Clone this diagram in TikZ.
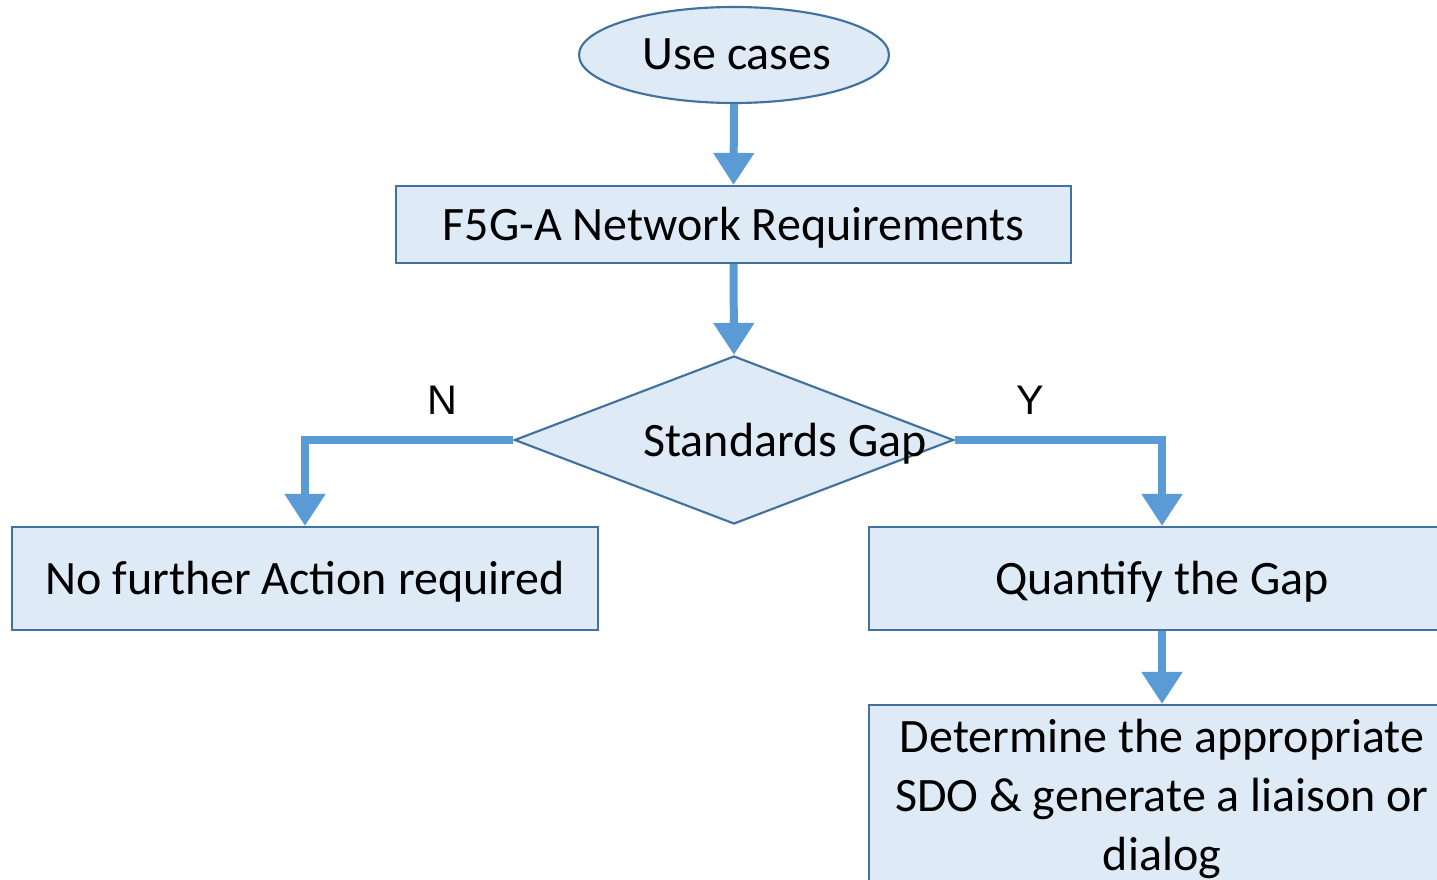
\documentclass[tikz,border=0pt]{standalone}
\usepackage{fontspec}
\setmainfont{Carlito}
\newfontfamily\labelfont{Liberation Sans}
\usetikzlibrary{shapes.geometric,arrows.meta}
\definecolor{boxfill}{HTML}{DEEBF7}
\definecolor{boxline}{HTML}{41719C}
\definecolor{flow}{HTML}{5B9BD5}
\begin{document}
\begin{tikzpicture}[x=0.75pt,y=-0.75pt,
  shapebox/.style={draw=boxline,fill=boxfill,line width=1.6pt,inner sep=0pt},
  stepbox/.style={shapebox,rectangle},
  txt/.style={font=\fontsize{36pt}{44pt}\selectfont,inner sep=0pt,anchor=base},
  yn/.style={font=\labelfont\fontsize{31pt}{36pt}\selectfont,inner sep=0pt},
  conn/.style={draw=flow,line width=6pt,
    -{Triangle[width=29.25pt,length=24pt]}}]
\useasboundingbox (0,0) rectangle (1437,880);
\fill[white] (0,0) rectangle (1437,880);

% nodes
\node[shapebox,ellipse,minimum width=310*0.75pt,minimum height=96*0.75pt] (uc) at (734,55) {};
\node[txt] at (737,70) {Use cases};

\node[stepbox,minimum width=675*0.75pt,minimum height=77*0.75pt] (req) at (733.5,224.5) {};
\node[txt] at (733.5,241) {F5G-A Network Requirements};

\node[shapebox,diamond,minimum width=439*0.75pt,minimum height=168*0.75pt] (gap) at (734,440) {};
\node[txt] at (785,456) {Standards Gap};

\node[stepbox,minimum width=586*0.75pt,minimum height=103*0.75pt] (nof) at (305,578.5) {};
\node[txt] at (305,594) {No further Action required};

\node[stepbox,minimum width=586*0.75pt,minimum height=103*0.75pt] (quant) at (1162,578.5) {};
\node[txt] at (1162,594) {Quantify the Gap};

\node[stepbox,minimum width=586*0.75pt,minimum height=230*0.75pt] (det) at (1162,820) {};
\node[txt] at (1162,752) {Determine the appropriate};
\node[txt] at (1162,811) {SDO \& generate a liaison or};
\node[txt] at (1162,870) {dialog};

% connectors
\draw[conn] (uc.south) -- (req.north);
\draw[conn] (req.south) -- (gap.north);
\draw[conn] (gap.west) -| (nof.north);
\draw[conn] (gap.east) -| (quant.north);
\draw[conn] (quant.south) -- (det.north);

% branch labels
\node[yn] at (442,400) {N};
\node[yn] at (1030,400) {Y};
\end{tikzpicture}
\end{document}
